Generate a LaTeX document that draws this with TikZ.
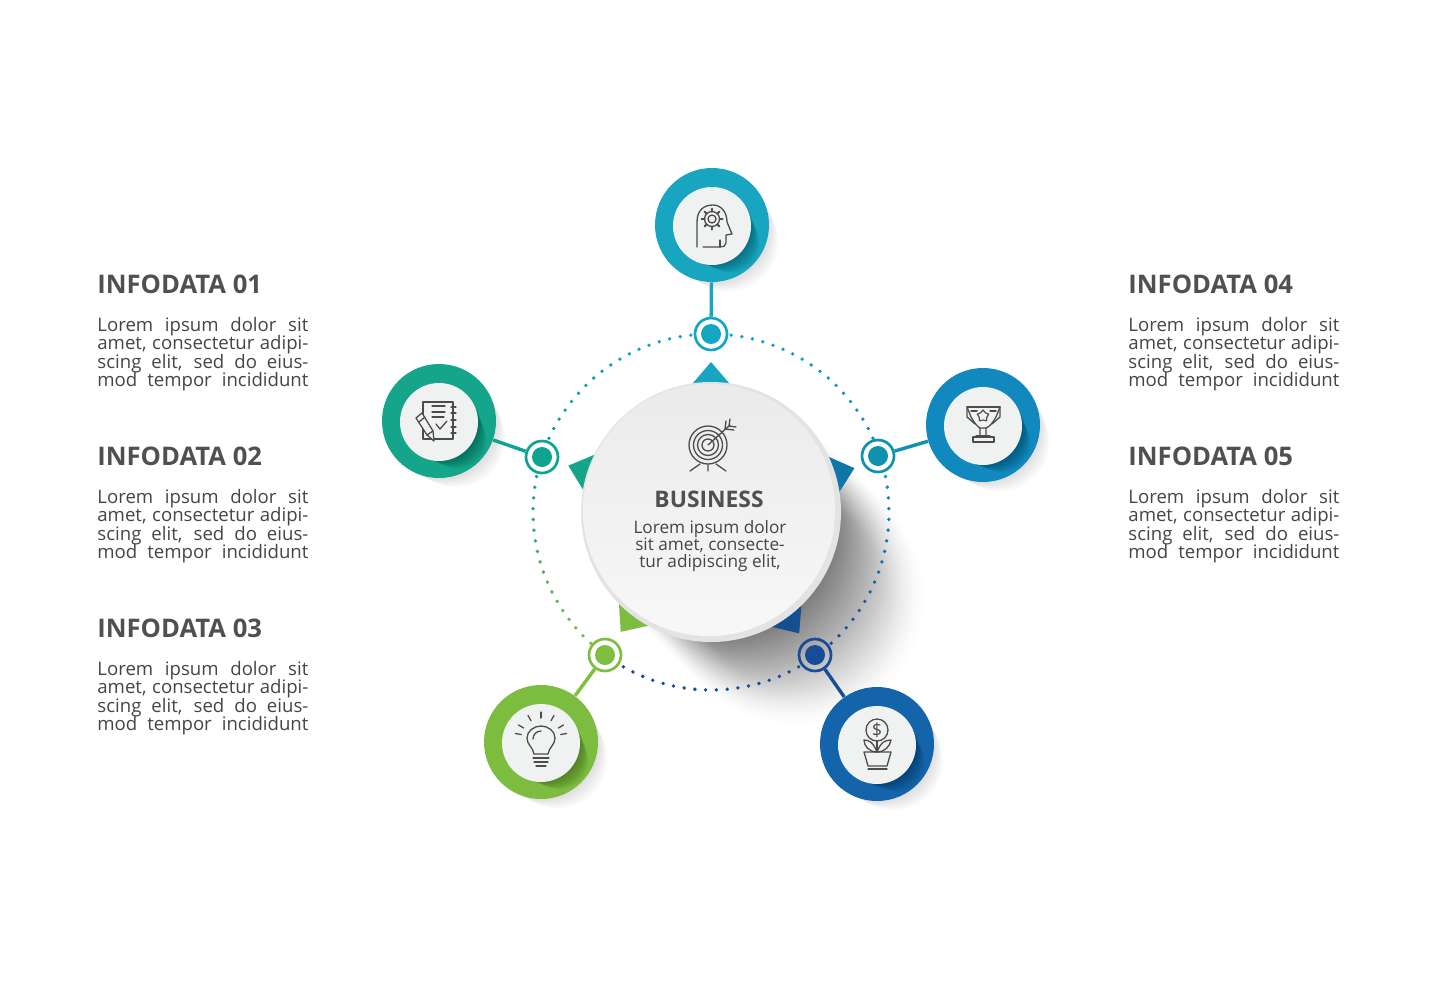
\documentclass[tikz,border=0pt]{standalone}
\usepackage{fontspec}
\setmainfont{Open Sans}
\usetikzlibrary{shapes.geometric}

\definecolor{textgray}{HTML}{454545}
\definecolor{headgray}{HTML}{505050}
\definecolor{icongray}{HTML}{4C4C4C}
\definecolor{facegray}{HTML}{F0F2F2}
\definecolor{colA}{HTML}{17A5BF}
\definecolor{colB}{HTML}{14A58A}
\definecolor{colC}{HTML}{7CBD3F}
\definecolor{colD}{HTML}{1464AC}
\definecolor{colE}{HTML}{1289BE}
\definecolor{dotA}{HTML}{15A6C4}
\definecolor{dotB}{HTML}{10A390}
\definecolor{dotC}{HTML}{7FBF3F}
\definecolor{dotD}{HTML}{174C98}
\definecolor{dotE}{HTML}{1092AE}
\definecolor{triE}{HTML}{0F76A8}
\definecolor{triD}{HTML}{154F8F}

\tikzset{
  head/.style={anchor=west,inner sep=0pt,text=headgray,font=\bfseries\fontsize{12.8}{15}\selectfont},
  para/.style={anchor=north west,inner sep=0pt,text=textgray,align=left,
    font=\fontsize{9.3}{9.25}\selectfont},
  outring/.style={circle,inner sep=0pt,minimum size=57pt},
  inring/.style={circle,inner sep=0pt,minimum size=39pt,fill=facegray},
  ringnode/.style={circle,inner sep=0pt,minimum size=16pt,line width=1.35pt},
  ringcore/.style={circle,inner sep=0pt,minimum size=10pt},
  link/.style={line width=1.7pt},
  icon/.style={draw=icongray,line width=.65pt,line cap=round,line join=round},
}
\newcommand{\jline}[1]{\smash{\makebox[105.5pt][s]{#1}}}
\newcommand{\lorem}{\jline{Lorem ipsum dolor sit}\\\jline{amet, consectetur adipi-}\\
  \jline{scing elit, sed do eius-}\\\jline{mod tempor incididunt}}

\begin{document}
\begin{tikzpicture}[x=.5pt,y=-.5pt]
  \useasboundingbox (0,0) rectangle (1435,980);
  \fill[white] (0,0) rectangle (1435,980);

  % long shadow of the middle disc
  \foreach \i in {1,...,150}
    \fill[black,opacity=.005] ({711+\i*.6},{512+\i*.6}) circle ({130-mod(\i*17,61)*.6});

  % dotted ring
  \foreach \a/\p/\q in {90/dotA/dotE,18/dotE/dotD,-54/dotD/dotD,-126/dotC/dotB,-198/dotB/dotA}
    \foreach \k in {0,...,17} {
      \pgfmathtruncatemacro\m{\k*100/17}
      \pgfmathsetmacro\t{\k*3.47+6.5-\a}
      \fill[\q!\m!\p] ([shift={(711,512)}]\t:178) circle (1.9);
    }

  % pointers
  \foreach \a/\c in {90/colA,162/colB,233/colC,306/triD,17/triE}
    \fill[\c,shift={(711,512)},rotate=\a] (150,0) -- (122,24) -- (122,-24) -- cycle;

  % middle disc
  \node[circle,inner sep=0pt,minimum size=130pt,fill=black!11] (core) at (711,512) {};
  \node[circle,inner sep=0pt,minimum size=126pt,top color=black!8,bottom color=black!3] (coreface) at (709,510) {};

  % ring nodes and outer discs
  \foreach \n/\x/\y/\u/\v/\c/\d in {1/712/225/711/334/colA/dotA,2/439/421/542/457/colB/dotB,
      3/541/742/605/655/colC/dotC,4/877/744/815/655/colD/dotD,5/983/425/878/456/colE/dotE} {
    \foreach \i in {1,...,16}
      \fill[black,opacity=.008] ({\x+\i*1.1},{\y+\i*1.1}) circle ({57-\i*.5});
    \node[outring,fill=\c] (out\n) at (\x,\y) {};
    \begin{scope}
      \clip (\x,\y) circle (57);
      \foreach \i in {1,...,16}
        \fill[black,opacity=.02] ({\x+\i*1.2},{\y+\i*1.2}) circle ({39.5-\i*.7});
    \end{scope}
    \node[inring] (in\n) at (\x,{\y+1}) {};
    \node[ringnode,draw=\d] (ring\n) at (\u,\v) {};
    \node[ringcore,fill=\d] (dot\n) at (\u,\v) {};
    \draw[link,\d] (out\n) -- (ring\n);
  }

  % texts
  \node[head] (title1) at (97,284) {INFODATA 01};
  \node[para] (text1) at (97,331) {\lorem};
  \node[head] (title2) at (97,456) {INFODATA 02};
  \node[para] (text2) at (97,503) {\lorem};
  \node[head] (title3) at (97,628) {INFODATA 03};
  \node[para] (text3) at (97,675) {\lorem};
  \node[head] (title4) at (1128,284) {INFODATA 04};
  \node[para] (text4) at (1128,331) {\lorem};
  \node[head] (title5) at (1128,456) {INFODATA 05};
  \node[para] (text5) at (1128,503) {\lorem};

  \node[head,anchor=center,font=\bfseries\fontsize{11.4}{14}\selectfont] (business) at (709,499) {BUSINESS};
  \node[anchor=north,inner sep=0pt,text=textgray,align=center,
    font=\fontsize{8.6}{8.5}\selectfont] (businesstext) at (710,520)
    {Lorem ipsum dolor\\sit amet, consecte-\\tur adipiscing elit,};

  % target
  \begin{scope}[shift={(708,445)},icon]
    \draw (0,0) circle (19) (0,0) circle (14.5) (0,0) circle (10.5) (0,0) circle (6);
    \draw (0,0) -- (22,-20);
    \draw (17,-16) -- (18,-24) (17,-16) -- (26,-15) (21,-19) -- (22,-26) (21,-19) -- (28,-18);
    \draw (-18,26) -- (-8,19) (18,26) -- (8,19) (0,20) -- (0,26);
  \end{scope}

  % head with gear
  \begin{scope}[shift={(712,226)},icon]
    \draw (-15,21) -- (-15,-4) .. controls (-15,-16) and (-8,-21) .. (1,-21)
      .. controls (9,-21) and (15,-14) .. (15,-4) -- (20,8) -- (14,9) -- (14,17)
      .. controls (14,20) and (11,21) .. (8,21) -- (-9,21);
    \draw (8,21) -- (8,14);
    \draw (0,-7) circle (7.5) (0,-7) circle (4);
    \foreach \t in {0,45,...,315}
      \draw[line width=1pt] ([shift={(0,-7)}]\t:7.5) -- ([shift={(0,-7)}]\t:10.5);
  \end{scope}

  % notes with pen
  \begin{scope}[shift={(439,421)},icon]
    \draw (-16,-19) rectangle (14,18);
    \foreach \t in {-14,-8,-1,6,12}
      \draw (12,\t) -- (17,\t);
    \draw (-7,-15) -- (6,-15) (-7,-9) -- (6,-9) (-7,-4) -- (5,-4);
    \draw (-3,3) -- (1,8) -- (8,0);
    \filldraw[fill=facegray] (-23,-3) -- (-17,-8) -- (-6,10) -- (-5,20) -- (-12,14) -- cycle;
    \draw (-20,1) -- (-14,-4) (-12,14) -- (-6,10);
  \end{scope}

  % bulb
  \begin{scope}[shift={(541,742)},icon]
    \draw (-7,12) .. controls (-8,5) and (-14,3) .. (-14,-4)
      .. controls (-14,-11) and (-7,-16) .. (0,-16)
      .. controls (7,-16) and (14,-11) .. (14,-4)
      .. controls (14,3) and (8,5) .. (7,12) -- cycle;
    \draw (0,-11) .. controls (-5,-11) and (-8,-7) .. (-8,-3);
    \draw (-8,16) -- (8,16) (-7,20) -- (7,20) (-5,24) -- (5,24);
    \foreach \t in {-90,-60,-30,-120,-150,-170,-10}
      \draw ([shift={(0,-4)}]\t:20) -- ([shift={(0,-4)}]\t:26);
  \end{scope}

  % plant with coin
  \begin{scope}[shift={(877,744)},icon]
    \draw (0,-14) circle (11);
    \node[inner sep=0pt,text=icongray,font=\fontsize{9}{9}\selectfont] (coin) at (0,-14) {\$};
    \draw (0,-3) -- (0,8);
    \draw (0,8) .. controls (-4,-2) and (-8,-4) .. (-13,-4) .. controls (-13,2) and (-8,8) .. (0,8);
    \draw (0,8) .. controls (4,-2) and (8,-4) .. (14,-4) .. controls (13,2) and (8,8) .. (0,8);
    \draw (-13,8) -- (14,8) -- (10,22) -- (-9,22) -- cycle;
    \draw (-9,25) -- (10,25);
  \end{scope}

  % trophy
  \begin{scope}[shift={(983,425)},icon]
    \draw (-16,-18) -- (17,-18) (-12,-14) -- (-6,-14) (7,-14) -- (13,-14);
    \draw (-16,-18) -- (-12,-8) .. controls (-8,-1) and (-5,2) .. (-3,3) -- (-3,11)
      (17,-18) -- (13,-8) .. controls (9,-1) and (6,2) .. (3,3) -- (3,11) (-3,3) -- (3,3);
    \draw (-16,-18) -- (-16,-8) -- (-8,-1) (17,-18) -- (17,-8) -- (9,-1);
    \node[star,star points=5,draw=icongray,line width=.6pt,inner sep=0pt,minimum size=6pt] (cupstar) at (0,-9) {};
    \draw (-7,11) -- (7,11) (-10,12) rectangle (11,17);
  \end{scope}
\end{tikzpicture}
\end{document}
